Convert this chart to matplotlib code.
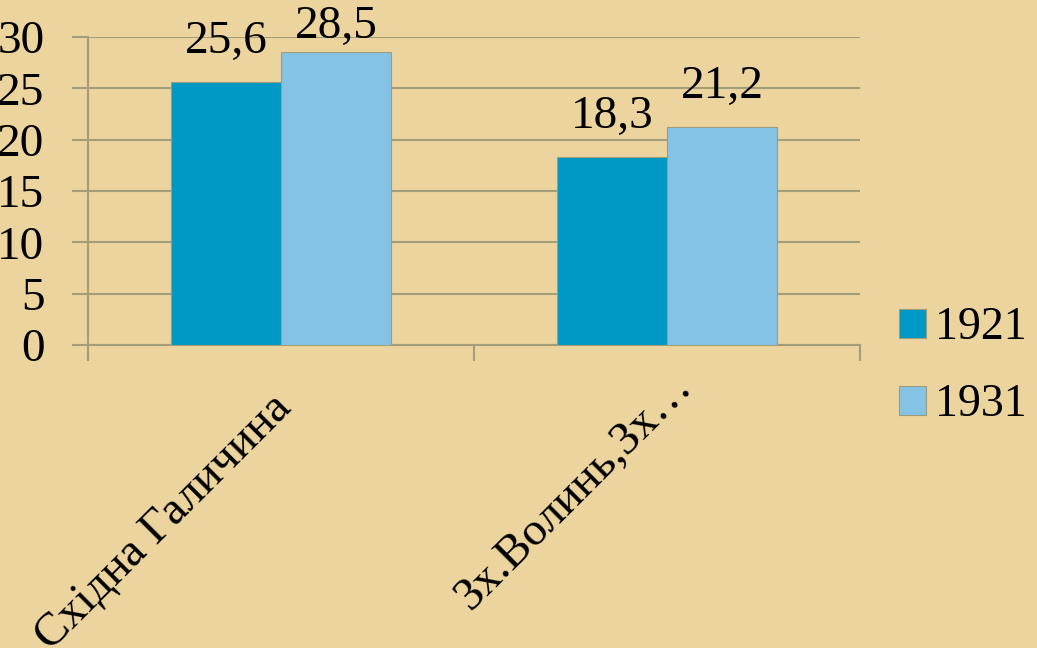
import numpy as np
import matplotlib
matplotlib.use("Agg")
import matplotlib.pyplot as plt
from matplotlib.ticker import FixedLocator

plt.rcParams['font.family'] = ['Liberation Serif', 'DejaVu Serif']

# ─── Дані ──────────────────────────────────────────────────────────────────────
categories = ['Східна Галичина', 'Зх.Волинь,Зх…']
years = ['1921', '1931']
values_1921 = [25.6, 18.3]
values_1931 = [28.5, 21.2]
y_ticks = [0, 5, 10, 15, 20, 25, 30]

# ─── Стиль ─────────────────────────────────────────────────────────────────────
BG = '#ECD49E'
GRID = '#A39E78'
COLORS = ['#0099C6', '#85C3E5']
LABEL_OFFSETS = [(-8, -30), (3, -14)]   # зсув підписів категорій, pt
LABEL_TOP = 29.85                        # підписи значень не вище межі діаграми

fig = plt.figure(figsize=(10.37, 6.48), dpi=100, facecolor=BG)
ax = fig.add_axes([0.085, 0.4676, 0.7445, 0.4754])
ax.set_facecolor('none')

x = np.arange(len(categories))
w = 0.285
series = [values_1921, values_1931]
for i, (vals, name, col) in enumerate(zip(series, years, COLORS)):
    pos = x + (i - 0.5) * w
    bars = ax.bar(pos, vals, width=w, color=col, edgecolor='#9E9C7C',
                  linewidth=0.8, label=name, zorder=3)
    for b, v in zip(bars, vals):
        ax.text(b.get_x() + b.get_width() / 2, min(v + 2.85, LABEL_TOP),
                f'{v:.1f}'.replace('.', ','), ha='center', va='baseline',
                fontsize=34, color='black', clip_on=False)

ax.set_xlim(-0.5, len(categories) - 0.5)
ax.set_ylim(0, 30)
ax.set_yticks(y_ticks)
ax.set_yticklabels([str(t) for t in y_ticks])
ax.grid(axis='y', color=GRID, linewidth=1.5, zorder=0)
ax.tick_params(axis='y', length=11.5, width=1.5, color=GRID, pad=20,
               labelsize=34, labelcolor='black')

# підписи категорій під кутом 45°
ax.set_xticks(x)
ax.set_xticklabels([])
ax.tick_params(axis='x', which='major', length=0)
for xi, cat, off in zip(x, categories, LABEL_OFFSETS):
    ax.annotate(cat, xy=(xi, 0), xycoords=('data', 'axes fraction'),
                xytext=off, textcoords='offset points', rotation=45,
                ha='right', va='top', rotation_mode='anchor', fontsize=34,
                annotation_clip=False)
ax.xaxis.set_minor_locator(FixedLocator(np.arange(-0.5, len(categories), 1.0)))
ax.tick_params(axis='x', which='minor', length=11.5, width=1.5, color=GRID)

for s in ['top', 'right']:
    ax.spines[s].set_visible(False)
ax.spines['left'].set_color(GRID)
ax.spines['left'].set_linewidth(1.5)
ax.spines['bottom'].set_color(GRID)
ax.spines['bottom'].set_linewidth(1.5)

leg = ax.legend(loc='center left', bbox_to_anchor=(1.05, -0.07), frameon=False,
                fontsize=33, handlelength=0.6, handleheight=0.6,
                handletextpad=0.2, labelspacing=0.75, borderaxespad=0,
                borderpad=0)

fig.savefig('out.png', dpi=100, facecolor=BG)
